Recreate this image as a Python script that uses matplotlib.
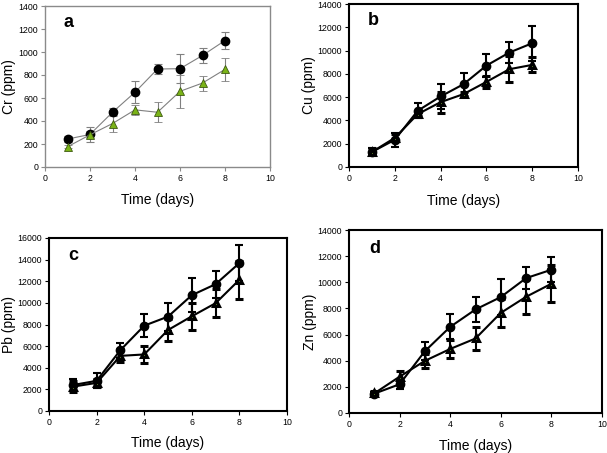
import matplotlib
matplotlib.use("Agg")
import matplotlib.pyplot as plt
import numpy as np

plt.rcParams['font.family'] = ['Liberation Sans', 'DejaVu Sans']

days = [1, 2, 3, 4, 5, 6, 7, 8]

# Cr (panel a)
cr_circ = [243, 283, 476, 650, 852, 855, 970, 1100]
cr_circ_err = [28, 67, 35, 96, 40, 128, 65, 72]
cr_tri = [176, 280, 378, 497, 476, 658, 730, 849]
cr_tri_err = [15, 30, 70, 42, 85, 142, 65, 98]

# Cu (panel b)
cu_circ = [1290, 2340, 4830, 6060, 7110, 8710, 9830, 10630]
cu_circ_err = [300, 600, 650, 1100, 950, 1000, 900, 1500]
cu_tri = [1290, 2500, 4540, 5570, 6260, 7310, 8400, 8770]
cu_tri_err = [300, 300, 200, 900, 200, 500, 1100, 650]

# Pb (panel c)
pb_circ = [2400, 2790, 5630, 7890, 8730, 10710, 11730, 13680]
pb_circ_err = [550, 700, 700, 1060, 1300, 1550, 1240, 1700]
pb_tri = [2250, 2600, 5100, 5230, 7490, 8760, 9970, 12140]
pb_tri_err = [500, 400, 600, 800, 1000, 1270, 1300, 1770]

# Zn (panel d)
zn_circ = [1480, 2200, 4730, 6590, 7920, 8870, 10320, 10960]
zn_circ_err = [150, 350, 700, 950, 970, 1350, 820, 970]
zn_tri = [1500, 2780, 3990, 4900, 5700, 7660, 8890, 9890]
zn_tri_err = [150, 400, 550, 700, 890, 1070, 1330, 1430]

# letter, y label, data, y max, y step, box (l, t, r, b px), ylabel x, xlabel y
panels = [
    ('a', 'Cr (ppm)', cr_circ, cr_circ_err, cr_tri, cr_tri_err, 1400, 200,
     [45, 6, 270, 167], 9, 200),
    ('b', 'Cu (ppm)', cu_circ, cu_circ_err, cu_tri, cu_tri_err, 14000, 2000,
     [349, 4, 578, 167], 309, 201),
    ('c', 'Pb (ppm)', pb_circ, pb_circ_err, pb_tri, pb_tri_err, 16000, 2000,
     [49, 238, 287, 411], 9, 443),
    ('d', 'Zn (ppm)', zn_circ, zn_circ_err, zn_tri, zn_tri_err, 14000, 2000,
     [349, 230, 602, 413], 310, 446),
]

W, H = 607, 453
fig = plt.figure(figsize=(W / 100, H / 100), dpi=100)

for letter, ylab, yc, ec, yt, et, ymax, ystep, box, ylx, xly in panels:
    l, t, r, b = box
    ax = fig.add_axes([l / W, 1 - b / H, (r - l) / W, (b - t) / H])
    if letter == 'a':
        frame = '#8a8a8a'
        lc = '#808080'
        lw = 0.8
        tri_face = '#7ab317'
        tri_edge = '#3d5a10'
        mew = 0.6
        elw = 0.8
        tms = 5.5
    else:
        frame = 'black'
        lc = 'black'
        lw = 1.5
        tri_face = '#8cc63f'
        tri_edge = 'black'
        mew = 2.2
        elw = 1.5
        tms = 4.5
    ax.errorbar(days, yc, yerr=ec, color=lc, lw=lw, elinewidth=elw, ecolor=lc,
                capsize=3, capthick=elw, marker='o', ms=6, mfc='black',
                mec='black', zorder=3)
    ax.errorbar(days, yt, yerr=et, color=lc, lw=lw, elinewidth=elw, ecolor=lc,
                capsize=3, capthick=elw, marker='^', ms=tms,
                mfc=tri_face, mec=tri_edge, mew=mew, zorder=3)
    ax.set_xlim(0, 10)
    ax.set_ylim(0, ymax)
    ax.set_xticks(np.arange(0, 11, 2))
    ax.set_yticks(np.arange(0, ymax + 1, ystep))
    for s in ax.spines.values():
        s.set_color(frame)
        s.set_linewidth(1.0 if letter == 'a' else 1.5)
    ax.tick_params(direction='out', length=3, width=0.8, color=frame,
                   labelsize=6.3, pad=2)
    ax.set_xlabel('Time (days)', fontsize=10, va='center')
    ax.set_ylabel(ylab, fontsize=10, va='center')
    ax.xaxis.set_label_coords(0.5, (b - xly) / (b - t))
    ax.yaxis.set_label_coords((ylx - l) / (r - l), 0.5)
    ax.text(0.08, 0.9, letter, transform=ax.transAxes, fontsize=13,
            fontweight='bold', va='center', ha='left')

fig.savefig('out.png', dpi=100)
